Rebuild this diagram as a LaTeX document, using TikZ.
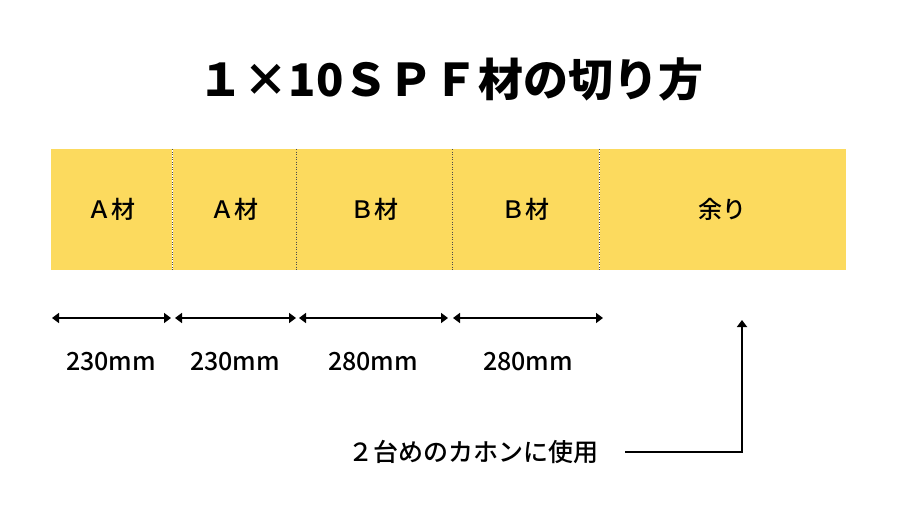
\documentclass[tikz,border=0pt]{standalone}
\usepackage{fontspec}
\newfontfamily\jpfont{Noto Sans CJK JP Medium}
\newfontfamily\jpbold{Noto Sans CJK JP Black}
\usetikzlibrary{positioning,arrows.meta}
\definecolor{woodyellow}{RGB}{252,218,94}

\begin{document}
\begin{tikzpicture}[x=1pt,y=-1pt,
    piece/.style={fill=woodyellow, minimum height=121pt, inner sep=0pt,
      font=\jpfont\fontsize{24}{28}\selectfont},
    cutline/.style={black!70, dotted, line width=0.5pt},
    dimline/.style={line width=2pt,
      {Triangle[length=7pt,width=10pt]}-{Triangle[length=7pt,width=10pt]}},
    sizelabel/.style={font=\jpfont\fontsize{25}{28}\selectfont},
    leader/.style={line width=2pt, -{Triangle[length=7pt,width=10pt]}}]
  %%%%% START %%%%%
  \useasboundingbox[fill=white] (0,0) rectangle (900,506);

  \node[font=\jpbold\fontsize{45}{50}\selectfont] (title) at (451,79) {１×10ＳＰＦ材の切り方};

  % the board, piece by piece
  \node[piece, minimum width=121pt, anchor=north west] (a1) at (51,149) {Ａ材};
  \node[piece, minimum width=123pt, right=0pt of a1] (a2) {Ａ材};
  \node[piece, minimum width=156pt, right=0pt of a2] (b1) {Ｂ材};
  \node[piece, minimum width=147pt, right=0pt of b1] (b2) {Ｂ材};
  \node[piece, minimum width=246pt, right=0pt of b2] (rest) {余り};

  \foreach \p in {a1,a2,b1,b2}
    \draw[cutline] (\p.north east) -- (\p.south east);

  % lengths
  \coordinate (d0) at (52,318);
  \coordinate (d1) at (171,318);
  \coordinate (d2) at (175,318);
  \coordinate (d3) at (296,318);
  \coordinate (d4) at (299,318);
  \coordinate (d5) at (448,318);
  \coordinate (d6) at (453,318);
  \coordinate (d7) at (603,318);
  \draw[dimline] (d0) -- (d1);
  \draw[dimline] (d2) -- (d3);
  \draw[dimline] (d4) -- (d5);
  \draw[dimline] (d6) -- (d7);

  \node[sizelabel] (l1) at (111,362) {230mm};
  \node[sizelabel] (l2) at (235,362) {230mm};
  \node[sizelabel] (l3) at (373,362) {280mm};
  \node[sizelabel] (l4) at (528,362) {280mm};

  % what the rest is for
  \node[sizelabel, anchor=west] (note) at (345,452) {２台めのカホンに使用};
  \coordinate (leadstart) at (625,452);
  \coordinate (leadtip) at (742,320);
  \draw[leader] (leadstart) -| (leadtip);
  %%%%% END %%%%%
\end{tikzpicture}
\end{document}
